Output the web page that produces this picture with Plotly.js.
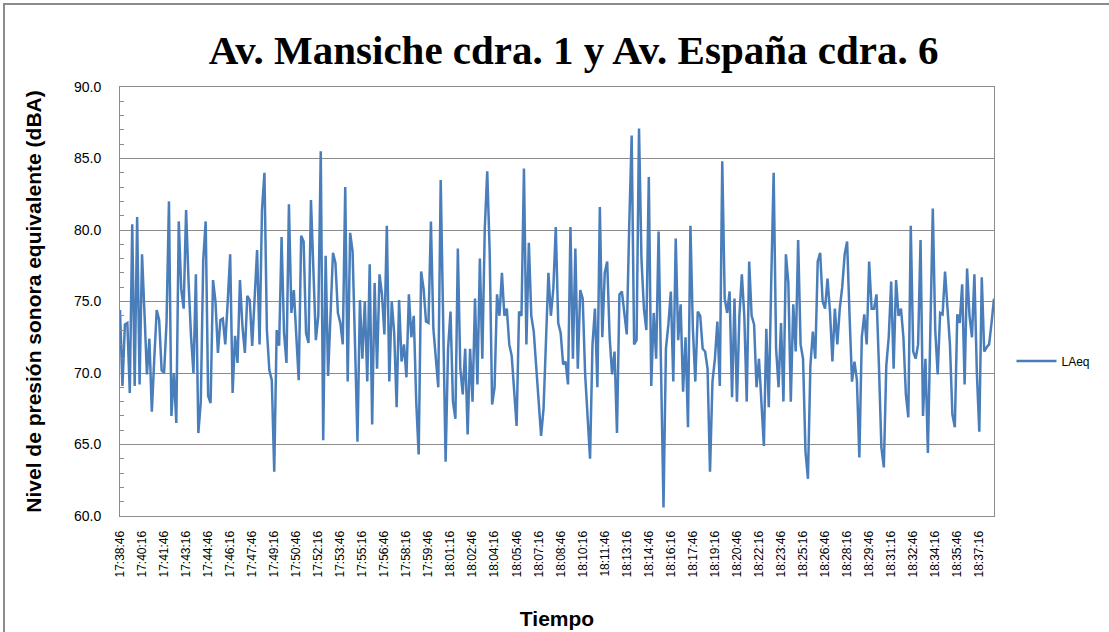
<!DOCTYPE html>
<html>
<head>
<meta charset="utf-8">
<script src="https://cdn.plot.ly/plotly-3.0.1.min.js"></script>
<style>
  html, body { margin: 0; padding: 0; background: #ffffff; }
  #chart { width: 1109px; height: 632px; }
</style>
</head>
<body>
<div id="chart"></div>
<script>
// ---- data ----
const startTime = "17:38:46";
const stepSeconds = 10;
const seriesName = "LAeq";
const laeqA = [74.4,69.1,73.4,73.5,68.6,80.4,69.1,80.9,69.2,78.3,74.2,69.9,72.4,67.3,71.0,74.4,73.7,70.2,70.0,73.5,82.0,67.0,70.0,66.5,80.6,75.9,74.5,81.4,76.4,72.6,70.0,76.9,65.8,68.0,77.9,80.6,68.4,67.9,76.5,75.0,71.4,73.7,73.8,72.0,75.0];
const laeqB = [78.3,68.6,72.6,70.7,76.5,73.3,71.4,75.4,75.1,71.9,75.3,78.6,72.0,81.4,84.0,73.0,70.2,69.5,63.1,73.0,71.9,79.5,72.8,70.7,81.8,74.2,75.8,73.0,69.5,79.6,79.2,72.8,72.1,82.1,77.5,72.3,74.0,85.5,65.3,78.2,69.8,74.2,78.4,77.7,74.2,73.5];
const laeqC = [72.0,83.0,69.4,79.8,78.5,72.0,65.2,75.1,71.0,75.0,69.4,77.6,66.4,76.3,70.3,76.9,75.5,72.7,80.3,69.4,75.0,72.8,67.6,75.1,70.8,72.0,69.7,75.5,72.5,74.0,68.0,64.3,77.1,75.9,73.6,73.5,80.6,73.1,70.8,69.0,83.5,72.0,63.8,71.7,74.3];
const laeqD = [68.0,66.8,78.7,70.3,68.5,71.7,65.7,71.7,68.0,75.2,69.2,78.0,71.0,80.1,84.1,78.5,67.8,69.0,75.5,74.0,77.0,74.0,74.5,72.0,71.2,69.0,66.3,74.3,74.0,84.3,72.0,79.1,74.0,72.9,70.3,67.6,65.6,67.5,72.4,77.0,74.0,75.9,80.2,73.5,72.8];
const laeqE = [70.6,70.8,69.2,80.2,71.0,78.7,70.3,75.8,75.2,69.9,67.1,64.0,72.0,74.5,69.0,81.6,72.5,77.0,77.8,72.5,69.9,71.5,65.8,75.5,75.7,74.0,72.7,80.3,86.6,72.0,72.3,87.1,78.0,74.5,73.0,83.7,69.1,74.2,71.0,79.9,70.0,60.6,71.7,73.4,75.7];
const laeqF = [69.4,79.4,72.3,74.8,68.7,72.5,66.2,80.3,73.1,69.4,74.3,74.0,71.7,71.5,70.3,63.1,69.4,71.0,73.6,69.1,84.8,75.2,74.2,75.7,68.3,75.2,68.0,74.0,76.9,74.0,68.0,77.8,74.0,73.4,69.0,71.0,67.6,64.9,73.1,67.6,76.4,84.0,71.7,69.0,73.5];
const laeqG = [68.0,78.3,76.3,68.0,74.8,71.5,79.3,72.0,71.0,64.5,62.6,70.5,72.9,71.0,77.8,78.4,75.0,74.5,76.6,74.3,70.8,74.5,72.0,74.5,76.0,78.3,79.2,74.0,69.4,70.8,69.5,64.1,72.5,74.1,72.0,77.8,74.5,74.5,75.5,70.5,64.8,63.4,70.5,72.5,76.4];
const laeqH = [70.3,76.5,74.0,74.5,72.5,68.5,66.9,80.3,71.5,71.0,72.0,79.3,67.0,71.0,64.4,72.5,81.5,73.0,69.9,74.2,74.1,77.1,74.2,72.0,67.1,66.2,74.1,73.5,76.2,69.2,77.3,74.0,72.5,76.9,70.0,65.9,76.7,71.5,71.8,72.0,73.5,75.2];
const tickLabels = ["17:38:46","17:40:16","17:41:46","17:43:16","17:44:46","17:46:16","17:47:46","17:49:16","17:50:46","17:52:16","17:53:46","17:55:16","17:56:46","17:58:16","17:59:46","18:01:16","18:02:46","18:04:16","18:05:46","18:07:16","18:08:46","18:10:16","18:11:46","18:13:16","18:14:46","18:16:16","18:17:46","18:19:16","18:20:46","18:22:16","18:23:46","18:25:16","18:26:46","18:28:16","18:29:46","18:31:16","18:32:46","18:34:16","18:35:46","18:37:16"];

// ---- build ----
const laeq = [].concat(laeqA, laeqB, laeqC, laeqD, laeqE, laeqF, laeqG, laeqH);
function toSec(t) { const p = t.split(":").map(Number); return p[0]*3600 + p[1]*60 + p[2]; }
const t0 = toSec(startTime);
const xs = laeq.map((v, i) => i * stepSeconds);
const tickVals = tickLabels.map(l => toSec(l) - t0);

const W = 1109, H = 632;
const L = 120, R = 115, T = 87, B = 116;
const pw = W - L - R, ph = H - T - B;

const trace = {
  x: xs, y: laeq, type: "scatter", mode: "lines", name: seriesName,
  line: { color: "#4A7EBB", width: 2.5 }
};

const layout = {
  width: W, height: H,
  margin: { l: L, r: R, t: T, b: B, pad: 0 },
  paper_bgcolor: "#ffffff", plot_bgcolor: "#ffffff",
  font: { family: "Liberation Sans, Arial, sans-serif", color: "#000000", size: 12 },
  title: {
    text: "Av. Mansiche cdra. 1 y Av. España cdra. 6",
    font: { family: "Liberation Serif, serif", size: 41, color: "#000000", weight: "bold" },
    x: 0.519, xanchor: "center", y: 1 - 50 / H, yanchor: "middle", xref: "paper"
  },
  xaxis: {
    range: [0, xs[xs.length - 1]],
    tickvals: tickVals, ticktext: tickLabels,
    tickangle: -90, tickfont: { size: 12, color: "#000000" },
    ticks: "", ticklabelstandoff: 9,
    showgrid: false, zeroline: false,
    showline: true, linecolor: "#8c8c8c", linewidth: 1, mirror: true,
    automargin: false,
    title: { text: "Tiempo", font: { size: 21, weight: "bold", family: "Liberation Sans, Arial, sans-serif" }, standoff: 34 }
  },
  yaxis: {
    range: [60, 90], dtick: 5, tick0: 60, tickformat: ".1f",
    tickfont: { size: 14, color: "#000000" },
    ticks: "", ticklabelstandoff: 15,
    showgrid: true, gridcolor: "#8c8c8c", gridwidth: 1,
    zeroline: false,
    showline: true, linecolor: "#8c8c8c", linewidth: 1, mirror: true,
    minor: { dtick: 1, ticks: "inside", ticklen: 4, tickcolor: "#8c8c8c", showgrid: false },
    automargin: false,
    title: { text: "Nivel de presión sonora equivalente (dBA)", font: { size: 21, weight: "bold", family: "Liberation Sans, Arial, sans-serif" }, standoff: 26 }
  },
  showlegend: true,
  legend: {
    x: 1.02, xanchor: "left", y: (516 - 361) / ph, yanchor: "middle",
    font: { size: 12, color: "#000000" }, bgcolor: "rgba(0,0,0,0)", itemwidth: 40
  },
  shapes: [{
    type: "rect", xref: "paper", yref: "paper",
    x0: (4 - L) / pw, x1: (W + 20 - L) / pw,
    y0: -(H + 20 - 516) / ph, y1: (516 - 4) / ph,
    line: { color: "#8c8c8c", width: 2 }, fillcolor: "rgba(0,0,0,0)", layer: "below"
  }]
};

Plotly.newPlot("chart", [trace], layout, { displayModeBar: false, responsive: false });
</script>
</body>
</html>
